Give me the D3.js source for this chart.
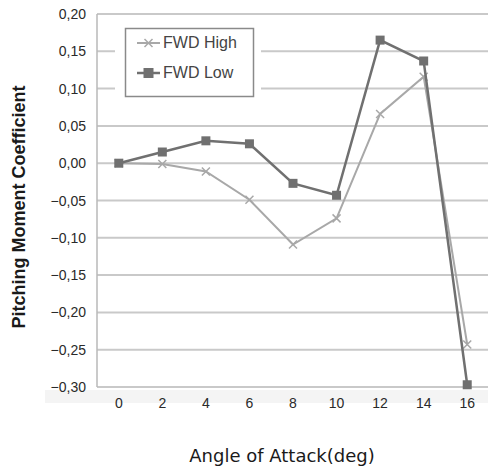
<!DOCTYPE html>
<html>
<head>
<meta charset="utf-8">
<script src="https://cdn.jsdelivr.net/npm/d3@7"></script>
<style>
	body { margin: 0; background: #fff; }
	svg text { font-family: "Liberation Sans", Arial, sans-serif; }
	svg text.x-title { font-family: "DejaVu Sans", sans-serif; }
</style>
</head>
<body>
<div id="chart"></div>
<script>
// data
const angles = [0, 2, 4, 6, 8, 10, 12, 14, 16];
const fwdHigh = [0, -0.001, -0.011, -0.049, -0.109, -0.074, 0.066, 0.116, -0.243];
const fwdLow = [0, 0.015, 0.030, 0.026, -0.027, -0.043, 0.165, 0.137, -0.297];
const yTicks = [0.20, 0.15, 0.10, 0.05, 0, -0.05, -0.10, -0.15, -0.20, -0.25, -0.30];

// set up
const w = 488;
const h = 470;
const mLeft = 97, mRight = 489, mTop = 14, mBottom = 387;

const series = [
	{name: "FWD High", values: fwdHigh, color: "#a8a8a8", marker: "x"},
	{name: "FWD Low", values: fwdLow, color: "#707070", marker: "square"}
];

const x = d3.scalePoint()
	.domain(angles)
	.range([mLeft, mRight])
	.padding(0.5);

const y = d3.scaleLinear()
	.domain([-0.30, 0.20])
	.range([mBottom, mTop]);

const fmt = v => d3.format(".2f")(v).replace(".", ",").replace("-", "\u2212");

const svg = d3.select("#chart")
	.append("svg")
	.attr("width", w)
	.attr("height", h);

// light band behind x tick labels
svg.append("rect")
	.attr("x", 45).attr("y", mBottom + 3)
	.attr("width", w - 45).attr("height", 13)
	.attr("fill", "#f4f4f4");

// gridlines
svg.append("g")
	.selectAll("line")
	.data(yTicks)
	.enter()
	.append("line")
	.attr("x1", mLeft).attr("x2", mRight)
	.attr("y1", d => y(d)).attr("y2", d => y(d))
	.attr("stroke", "#c9c9c9")
	.attr("stroke-width", 2);

// y axis line
svg.append("line")
	.attr("x1", mLeft).attr("x2", mLeft)
	.attr("y1", mTop).attr("y2", mBottom)
	.attr("stroke", "#b8b8b8")
	.attr("stroke-width", 1.5);

// y tick labels
svg.append("g")
	.selectAll("text")
	.data(yTicks)
	.enter()
	.append("text")
	.attr("x", 86)
	.attr("y", d => y(d) + 5)
	.attr("text-anchor", "end")
	.attr("font-size", 14)
	.attr("fill", "#2a2a2a")
	.text(fmt);

// x tick labels
svg.append("g")
	.selectAll("text")
	.data(angles)
	.enter()
	.append("text")
	.attr("x", d => x(d))
	.attr("y", mBottom + 21)
	.attr("text-anchor", "middle")
	.attr("font-size", 14)
	.attr("fill", "#2a2a2a")
	.text(d => d);

// axis titles
svg.append("text")
	.attr("transform", "translate(25,207) rotate(-90)")
	.attr("text-anchor", "middle")
	.attr("font-size", 18)
	.attr("font-weight", "bold")
	.attr("fill", "#1a1a1a")
	.text("Pitching Moment Coefficient");

svg.append("text")
	.attr("class", "x-title")
	.attr("x", 282)
	.attr("y", 462)
	.attr("text-anchor", "middle")
	.attr("font-size", 18)
	.attr("fill", "#1a1a1a")
	.text("Angle of Attack(deg)");

// legend background + box
svg.append("rect")
	.attr("x", 115).attr("y", 21)
	.attr("width", 146).attr("height", 83)
	.attr("fill", "#fff");
svg.append("rect")
	.attr("x", 125.5).attr("y", 28.5)
	.attr("width", 128).attr("height", 68)
	.attr("fill", "#fff")
	.attr("stroke", "#8a8a8a")
	.attr("stroke-width", 1.5);

// marker drawing
function drawMarker(g, cx, cy, s, big) {
	if (s.marker === "square") {
		const sz = big ? 10 : 9;
		g.append("rect")
			.attr("x", cx - sz / 2).attr("y", cy - sz / 2)
			.attr("width", sz).attr("height", sz)
			.attr("fill", s.color);
	} else {
		const r = 4;
		g.append("path")
			.attr("d", `M${cx - r},${cy - r}L${cx + r},${cy + r}M${cx - r},${cy + r}L${cx + r},${cy - r}`)
			.attr("stroke", s.color)
			.attr("stroke-width", 1.5)
			.attr("fill", "none");
	}
}

// lines
const line = d3.line()
	.x((d, i) => x(angles[i]))
	.y(d => y(d));

series.forEach(s => {
	const g = svg.append("g");
	g.append("path")
		.attr("d", line(s.values))
		.attr("fill", "none")
		.attr("stroke", s.color)
		.attr("stroke-width", s.marker === "square" ? 2.5 : 2);
	s.values.forEach((v, i) => drawMarker(g, x(angles[i]), y(v), s));
});

// legend entries
series.forEach((s, i) => {
	const ly = 43 + i * 30;
	const g = svg.append("g");
	g.append("line")
		.attr("x1", 137).attr("x2", 160)
		.attr("y1", ly).attr("y2", ly)
		.attr("stroke", s.color)
		.attr("stroke-width", s.marker === "square" ? 2.5 : 2);
	drawMarker(g, 148.5, ly, s, true);
	g.append("text")
		.attr("x", 163)
		.attr("y", ly + 5)
		.attr("font-size", 16)
		.attr("fill", "#444")
		.text(s.name);
});
</script>
</body>
</html>
